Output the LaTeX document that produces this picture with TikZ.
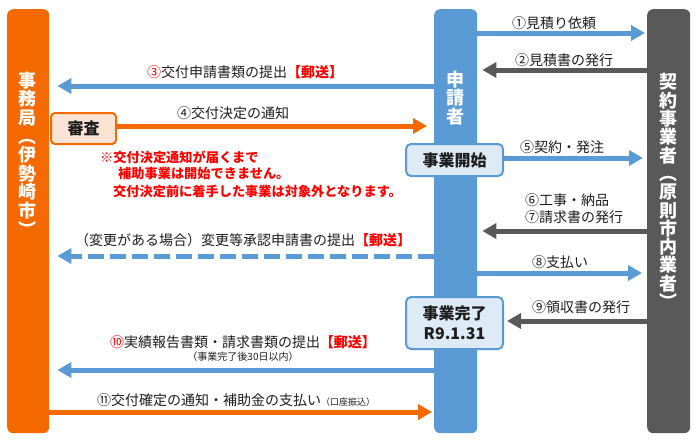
\documentclass[tikz,border=0pt]{standalone}
\usepackage{fontspec}
\setmainfont{Noto Sans CJK JP}
\usetikzlibrary{arrows.meta}
\definecolor{og}{HTML}{F56A00}
\definecolor{bl}{HTML}{5B9BD5}
\definecolor{gy}{HTML}{595959}
\definecolor{rd}{HTML}{FF0000}
\definecolor{tx}{HTML}{1E1E1E}
\definecolor{bfill}{HTML}{DEEBF7}
\definecolor{ofill}{HTML}{FBE3D6}
\begin{document}
\begin{tikzpicture}[x=1pt,y=-1pt,
  bar/.style={draw=none,rounded corners=6pt,minimum width=42pt,minimum height=424pt,inner sep=0pt,anchor=north west},
  bartxt/.style={text=white,font=\fontsize{18}{18.6}\selectfont\bfseries,inner sep=0pt,align=center},
  arr/.style={line width=5pt,-{Triangle[width=15pt,length=14pt]}},
  lbl/.style={text=tx,font=\fontsize{14}{16}\selectfont,inner sep=0pt},
  note/.style={text=rd,font=\fontsize{13.2}{15}\selectfont\bfseries,inner sep=0pt,anchor=west},
  bbox/.style={draw=bl,fill=bfill,line width=2pt,rounded corners=5pt,inner sep=0pt,anchor=north west,
    text=tx,font=\fontsize{16}{20}\selectfont\bfseries,align=center},
  obox/.style={draw=og,fill=ofill,line width=2pt,rounded corners=4pt,inner sep=0pt,anchor=north west,
    text=tx,font=\fontsize{16}{20}\selectfont\bfseries}]
\useasboundingbox (0,0) rectangle (699,445);
\fill[white] (0,0) rectangle (699,445);
% bars
\node[bar,fill=og] (off) at (7,9) {};
\node[bar,fill=bl,minimum width=43pt] (app) at (434,9) {};
\node[bar,fill=gy,minimum width=43pt] (con) at (647,9) {};
\node[bartxt] (offtxt) at (28,154) {事\\務\\局\\︵\\伊\\勢\\崎\\市\\︶};
\node[bartxt] (apptxt) at (455.5,98) {申\\請\\者};
\node[bartxt,font=\fontsize{18}{18.3}\selectfont\bfseries] (contxt) at (668.5,191) {契\\約\\事\\業\\者\\︵\\原\\則\\市\\内\\業\\者\\︶};
% boxes
\node[obox,minimum width=65pt,minimum height=31pt] (shinsa) at (50,112) {審査};
\node[bbox,minimum width=97pt,minimum height=32pt] (start) at (405,143) {事業開始};
\node[bbox,minimum width=97pt,minimum height=52pt] (done) at (405,296) {事業完了\\R9.1.31};
% y levels
\foreach \n/\yy in {a1/33,a2/70,a3/86,a4/126,a5/158,a7/231,ad/256,a8/273,a9/321,a10/370,a11/412}
  \coordinate (\n) at (0,\yy);
% arrows
\draw[arr,bl] (app.east |- a1) -- ([xshift=-2pt]con.west |- a1);
\draw[arr,gy] (con.west |- a2) -- ([xshift=5pt]app.east |- a2);
\draw[arr,bl] (app.west |- a3) -- ([xshift=8pt]off.east |- a3);
\draw[arr,og] (shinsa.east |- a4) -- ([xshift=-7pt]app.west |- a4);
\draw[arr,bl] (start.east |- a5) -- ([xshift=-4pt]con.west |- a5);
\draw[arr,gy] (con.west |- a7) -- ([xshift=5pt]app.east |- a7);
\draw[arr,bl,dash pattern=on 16pt off 6pt] (app.west |- ad) -- ([xshift=8pt]off.east |- ad);
\draw[arr,bl] (app.east |- a8) -- ([xshift=-5pt]con.west |- a8);
\draw[arr,gy] (con.west |- a9) -- ([xshift=3pt]done.east |- a9);
\draw[arr,bl] (app.west |- a10) -- ([xshift=8pt]off.east |- a10);
\draw[arr,og] (off.east |- a11) -- ([xshift=-2pt]app.west |- a11);
% labels
\node[lbl] (t1) at (554,23) {①見積り依頼};
\node[lbl] (t2) at (564,60) {②見積書の発行};
\node[lbl] (t3) at (245,72) {{\color{rd}③}交付申請書類の提出{\color{rd}\bfseries【郵送】}};
\node[lbl] (t4) at (233,113) {④交付決定の通知};
\node[note] (n1) at (100,157) {※交付決定通知が届くまで};
\node[note] (n2) at (118,174) {補助事業は開始できません。};
\node[note] (n3) at (113,191) {交付決定前に着手した事業は対象外となります。};
\node[lbl] (t5) at (562,147) {⑤契約・発注};
\node[lbl,anchor=west] (t6) at (525,200) {⑥工事・納品};
\node[lbl,anchor=west] (t7) at (525,217) {⑦請求書の発行};
\node[lbl] (td) at (243,240) {（変更がある場合）変更等承認申請書の提出{\color{rd}\bfseries【郵送】}};
\node[lbl] (t8) at (560,262) {⑧支払い};
\node[lbl] (t9) at (581,307) {⑨領収書の発行};
\node[lbl] (t10) at (243,342) {{\color{rd}⑩}実績報告書類・請求書類の提出{\color{rd}\bfseries【郵送】}};
\node[lbl,font=\fontsize{10}{12}\selectfont] (t10s) at (243,357) {（事業完了後30日以内）};
\node[lbl] (t11) at (236,400) {⑪交付確定の通知・補助金の支払い{\fontsize{9}{10}\selectfont（口座振込）}};
\end{tikzpicture}
\end{document}
